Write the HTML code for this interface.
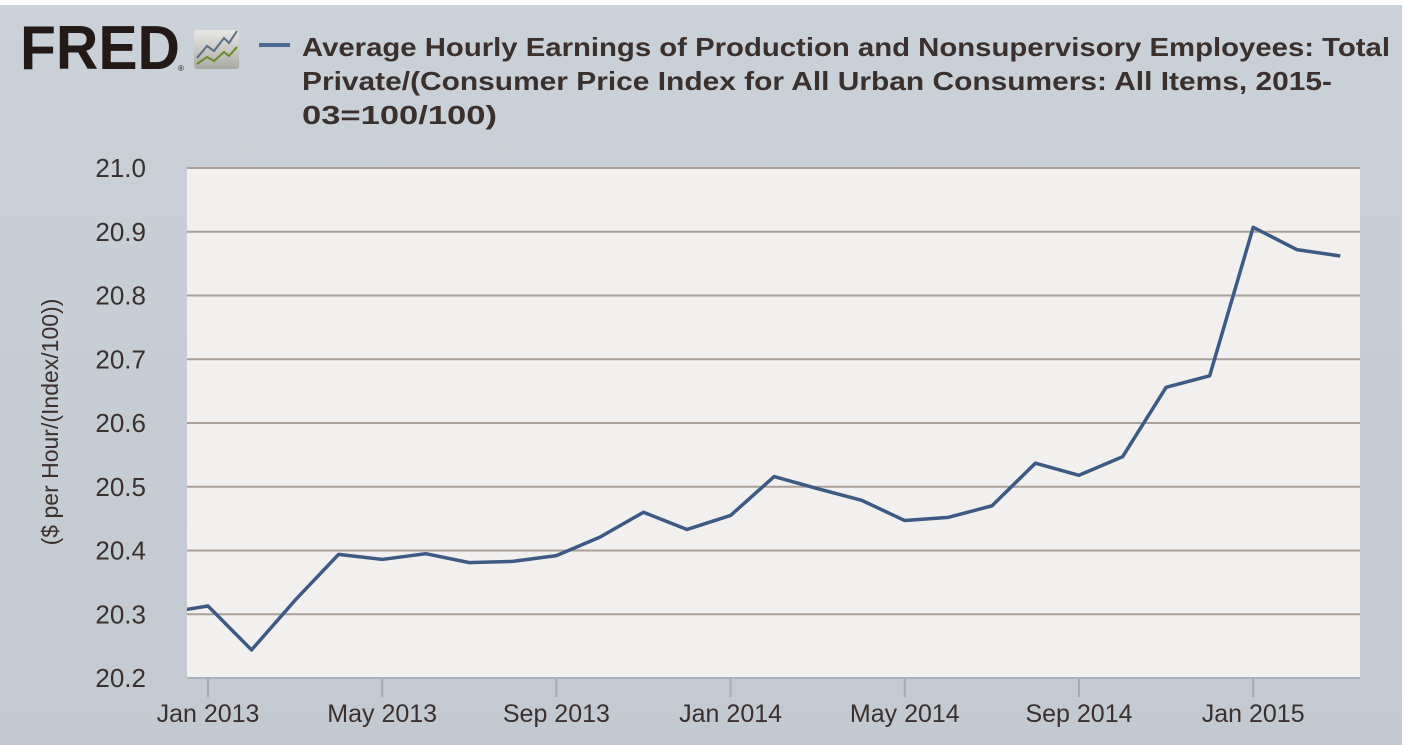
<!DOCTYPE html>
<html><head><meta charset="utf-8"><style>
html,body{margin:0;padding:0;background:#fff;}
svg{display:block;}
</style></head><body>
<svg width="1407" height="745" viewBox="0 0 1407 745" xmlns="http://www.w3.org/2000/svg">
<defs>
<linearGradient id="bg" x1="0" y1="0" x2="0" y2="1">
<stop offset="0" stop-color="#cbd1d8"/><stop offset="1" stop-color="#c3c9d1"/>
</linearGradient>
<linearGradient id="ic" x1="0" y1="0" x2="0" y2="1">
<stop offset="0" stop-color="#e8e8e6"/><stop offset="1" stop-color="#a9a9a4"/>
</linearGradient>
</defs>
<rect x="0" y="5" width="1402" height="740" fill="url(#bg)"/>
<g>
<text x="20" y="69" font-family="Liberation Sans, sans-serif" font-weight="bold" font-size="62" fill="#231a17" textLength="160" lengthAdjust="spacingAndGlyphs">FRED</text>
<text x="178" y="71" font-family="Liberation Sans, sans-serif" font-size="8" fill="#231a17">®</text>
<rect x="194" y="30" width="45" height="39" rx="3" fill="url(#ic)"/>
<polyline points="197,58 207,46 214,51 224,38 229,43 237,31" fill="none" stroke="#5a6f84" stroke-width="2"/>
<polyline points="197,64 207,57 214,61 224,52 229,56 237,47" fill="none" stroke="#6a8a2a" stroke-width="2"/>
</g>
<line x1="259" y1="45" x2="290" y2="45" stroke="#4a6a93" stroke-width="4"/>
<g font-family="Liberation Sans, sans-serif" font-weight="bold" font-size="26" fill="#3a302d">
<text x="302" y="56" textLength="1088" lengthAdjust="spacingAndGlyphs">Average Hourly Earnings of Production and Nonsupervisory Employees: Total</text>
<text x="302" y="90" textLength="1030" lengthAdjust="spacingAndGlyphs">Private/(Consumer Price Index for All Urban Consumers: All Items, 2015-</text>
<text x="302" y="124" textLength="195" lengthAdjust="spacingAndGlyphs">03=100/100)</text>
</g>
<rect x="187" y="167" width="1173" height="511" fill="#f2f0ef"/>
<g id="grid"></g>
<g id="yt" font-family="Liberation Sans, sans-serif" font-size="26" fill="#3a302d" text-anchor="end"></g>
<g id="xt" font-family="Liberation Sans, sans-serif" font-size="25" fill="#3a302d" text-anchor="middle"></g>
<line x1="187" y1="678" x2="1360" y2="678" stroke="#a9b1bc" stroke-width="2"/>
<text transform="translate(58,422) rotate(-90)" font-family="Liberation Sans, sans-serif" font-size="23" fill="#3a302d" text-anchor="middle">($ per Hour/(Index/100))</text>
<svg x="187" y="160" width="1173" height="520" overflow="hidden"><g id="series"></g></svg>
<rect x="1402" y="0" width="5" height="745" fill="#fff"/>
</svg>
<script>
const yTicks=[20.2,20.3,20.4,20.5,20.6,20.7,20.8,20.9,21.0];
const xTickLabels=["Jan 2013","May 2013","Sep 2013","Jan 2014","May 2014","Sep 2014","Jan 2015"];
const xTickMonths=[1,5,9,13,17,21,25];
const months=[0,1,2,3,4,5,6,7,8,9,10,11,12,13,14,15,16,17,18,19,20,21,22,23,24,25,26,27];
const values=[20.302,20.313,20.244,20.322,20.394,20.386,20.395,20.381,20.383,20.392,20.421,20.460,20.433,20.455,20.516,20.497,20.479,20.447,20.452,20.470,20.537,20.518,20.547,20.656,20.674,20.907,20.872,20.862];
const NS='http://www.w3.org/2000/svg';
function y(v){return 678-(v-20.2)/0.8*510;}
function x(m){return 208+(m-1)*43.55;}
const grid=document.getElementById('grid'),yt=document.getElementById('yt'),xt=document.getElementById('xt');
yTicks.forEach(v=>{
  if(v>20.25){const l=document.createElementNS(NS,'line');
  l.setAttribute('x1',187);l.setAttribute('x2',1360);l.setAttribute('y1',y(v));l.setAttribute('y2',y(v));
  l.setAttribute('stroke','#aaa09a');l.setAttribute('stroke-width','2');
  
  
  grid.appendChild(l);}
  const t=document.createElementNS(NS,'text');
  t.setAttribute('x',146);t.setAttribute('y',y(v)+9);t.textContent=v.toFixed(1);
  
  
  yt.appendChild(t);
});
xTickMonths.forEach((m,i)=>{
  const l=document.createElementNS(NS,'line');
  l.setAttribute('x1',x(m));l.setAttribute('x2',x(m));l.setAttribute('y1',679);l.setAttribute('y2',697);
  l.setAttribute('stroke','#a3abb6');l.setAttribute('stroke-width','2');
  
  
  xt.appendChild(l);
  const t=document.createElementNS(NS,'text');
  t.setAttribute('x',x(m));t.setAttribute('y',722);t.textContent=xTickLabels[i];
  
  
  xt.appendChild(t);
});
const p=document.createElementNS(NS,'polyline');
p.setAttribute('points',months.map((m,i)=>(x(m)-187)+','+(y(values[i])-160)).join(' '));
p.setAttribute('fill','none');p.setAttribute('stroke','#3d5a85');p.setAttribute('stroke-width','3.5');p.setAttribute('stroke-linejoin','round');


document.getElementById('series').appendChild(p);
</script>
</body></html>
